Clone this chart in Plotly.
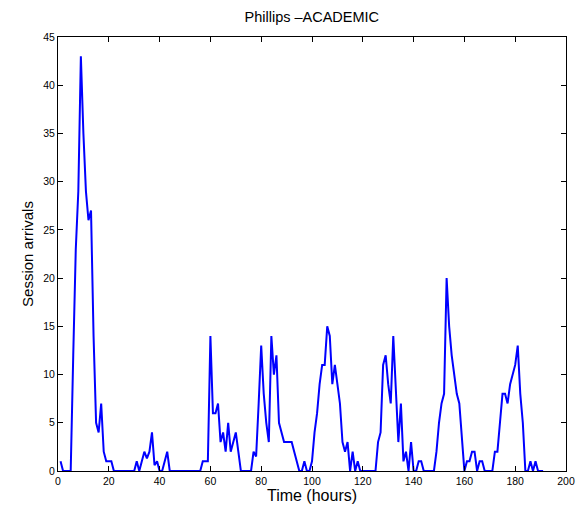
import plotly.graph_objects as go

hours = list(range(1, 192))
arrivals = [
    1, 0, 0, 0, 0, 12, 23, 29, 43, 35,        # 1-10
    29, 26, 27, 14, 5, 4, 7, 2, 1, 1,         # 11-20
    1, 0, 0, 0, 0, 0, 0, 0, 0, 0,             # 21-30
    1, 0, 1, 2, 1.3, 2, 4, 0.6, 1, 0,         # 31-40
    0, 1, 2, 0, 0, 0, 0, 0, 0, 0,             # 41-50
    0, 0, 0, 0, 0, 0, 1, 1, 1, 14,            # 51-60
    6, 6, 7, 3, 4, 2, 5, 2, 3, 4,             # 61-70
    2, 0, 0, 0, 0, 0, 2, 1.5, 7, 13,          # 71-80
    8, 5, 3, 14, 10, 12, 5, 4, 3, 3,          # 81-90
    3, 3, 2, 1, 0, 0, 1, 0, 0, 1,             # 91-100
    4, 6, 9, 11, 11, 15, 14, 9, 11, 9,        # 101-110
    7, 3, 2, 3, 0, 2, 0, 1, 0, 0,             # 111-120
    0, 0, 0, 0, 0, 3, 4, 11, 12, 9,           # 121-130
    7, 14, 9, 3, 7, 1, 2, 0, 3, 0,            # 131-140
    0, 1, 1, 0, 0, 0, 0, 0, 2, 5,             # 141-150
    7, 8, 20, 15, 12, 10, 8, 7, 3, 0,         # 151-160
    1, 1, 2, 2, 0, 1, 1, 0, 0, 0,             # 161-170
    0, 2, 2, 5, 8, 8, 7, 9, 10, 11,           # 171-180
    13, 8, 5, 0, 0, 1, 0, 1, 0, 0,            # 181-190
    0,                                        # 191
]

x_ticks = list(range(0, 201, 20))
y_ticks = list(range(0, 46, 5))

FONT = "Liberation Sans, Arial, sans-serif"

fig = go.Figure()
fig.add_trace(go.Scatter(
    x=hours, y=arrivals, mode="lines",
    line=dict(color="#0000ff", width=2),
    showlegend=False,
))

axis_common = dict(
    showline=True, linecolor="black", linewidth=1, mirror="ticks",
    ticks="inside", ticklen=5, tickcolor="black", tickwidth=1,
    showgrid=False, zeroline=False, automargin=False,
    tickfont=dict(family=FONT, size=10.5, color="black"),
)

fig.update_layout(
    width=585, height=509,
    margin=dict(l=58, r=19, t=37, b=38, autoexpand=False),
    paper_bgcolor="white", plot_bgcolor="white",
    title=dict(text="Phillips \u2013ACADEMIC", x=0.533, xanchor="center", y=0.966, yanchor="middle",
               font=dict(family=FONT, size=14.5, color="black")),
    xaxis=dict(range=[0, 200], tickvals=x_ticks, ticktext=[str(v) for v in x_ticks],
               title=dict(text="Time (hours)", standoff=1,
                          font=dict(family=FONT, size=16, color="black")),
               **axis_common),
    yaxis=dict(range=[0, 45], tickvals=y_ticks, ticktext=[str(v) for v in y_ticks],
               title=dict(text="Session arrivals", standoff=5,
                          font=dict(family=FONT, size=15, color="black")),
               **axis_common),
)

fig.write_html("out.html")
